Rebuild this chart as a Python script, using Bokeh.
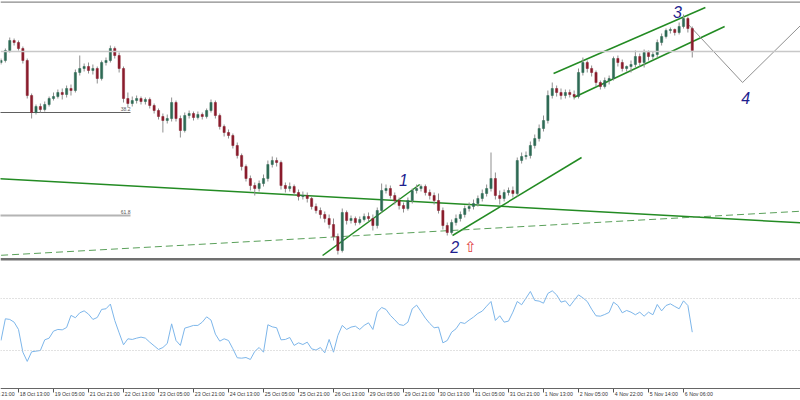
import numpy as np
from bokeh.plotting import figure
from bokeh.models import Range1d, Span, ColumnDataSource
from bokeh.core.properties import value
from bokeh.embed import file_html
from bokeh.resources import INLINE

# ---- H2 candles (EURUSD-like prices) ----
opens = [1.2938,1.2940,1.2950,1.2960,1.2958,1.2952,1.2940,1.2905,1.2888,1.2894,
         1.2891,1.2896,1.2902,1.2904,1.2908,1.2906,1.2912,1.2910,1.2928,1.2932,
         1.2934,1.2930,1.2932,1.2922,1.2938,1.2940,1.2952,1.2945,1.2932,1.2902,
         1.2897,1.2900,1.2902,1.2899,1.2901,1.2895,1.2890,1.2884,1.2880,1.2882,
         1.2898,1.2882,1.2870,1.2885,1.2887,1.2883,1.2886,1.2884,1.2890,1.2898,
         1.2885,1.2874,1.2868,1.2865,1.2855,1.2845,1.2834,1.2822,1.2815,1.2812,
         1.2817,1.2822,1.2836,1.2840,1.2838,1.2815,1.2812,1.2814,1.2808,1.2804,
         1.2805,1.2802,1.2794,1.2790,1.2786,1.2782,1.2776,1.2764,1.2750,1.2788,
         1.2780,1.2782,1.2778,1.2781,1.2784,1.2782,1.2775,1.2790,1.2810,1.2812,
         1.2805,1.2800,1.2795,1.2792,1.2800,1.2810,1.2812,1.2814,1.2808,1.2805,
         1.2800,1.2790,1.2775,1.2768,1.2778,1.2782,1.2786,1.2792,1.2794,1.2797,
         1.2802,1.2807,1.2812,1.2822,1.2805,1.2802,1.2808,1.2810,1.2807,1.2840,
         1.2844,1.2845,1.2855,1.2862,1.2872,1.2880,1.2905,1.2912,1.2908,1.2905,
         1.2908,1.2906,1.2904,1.2928,1.2938,1.2932,1.2928,1.2918,1.2914,1.2920,
         1.2922,1.2942,1.2938,1.2932,1.2934,1.2936,1.2944,1.2938,1.2948,1.2944,
         1.2946,1.2958,1.2964,1.2970,1.2971,1.2968,1.2974,1.2982,1.2972]
highs = [1.2942,1.2952,1.2963,1.2962,1.2960,1.2954,1.2942,1.2907,1.2896,1.2897,
         1.2899,1.2904,1.2908,1.2911,1.2912,1.2915,1.2916,1.2931,1.2945,1.2937,
         1.2938,1.2936,1.2934,1.2940,1.2943,1.2955,1.2954,1.2948,1.2934,1.2908,
         1.2904,1.2905,1.2904,1.2903,1.2903,1.2897,1.2892,1.2887,1.2886,1.2903,
         1.2900,1.2885,1.2888,1.2890,1.2889,1.2889,1.2888,1.2892,1.2901,1.2900,
         1.2887,1.2876,1.2871,1.2867,1.2858,1.2847,1.2836,1.2825,1.2818,1.2820,
         1.2826,1.2840,1.2844,1.2843,1.2840,1.2818,1.2818,1.2816,1.2811,1.2809,
         1.2808,1.2804,1.2797,1.2793,1.2789,1.2786,1.2782,1.2767,1.2792,1.2790,
         1.2785,1.2784,1.2784,1.2787,1.2788,1.2786,1.2793,1.2817,1.2816,1.2815,
         1.2808,1.2803,1.2798,1.2803,1.2812,1.2816,1.2816,1.2816,1.2811,1.2808,
         1.2807,1.2793,1.2778,1.2781,1.2786,1.2789,1.2795,1.2798,1.2801,1.2805,
         1.2811,1.2816,1.2848,1.2828,1.2810,1.2811,1.2813,1.2814,1.2843,1.2848,
         1.2849,1.2859,1.2866,1.2876,1.2885,1.2910,1.2918,1.2915,1.2912,1.2911,
         1.2911,1.2910,1.2932,1.2943,1.2940,1.2935,1.2930,1.2920,1.2923,1.2925,
         1.2944,1.2945,1.2941,1.2935,1.2940,1.2950,1.2947,1.2951,1.2950,1.2949,
         1.2961,1.2967,1.2972,1.2973,1.2972,1.2978,1.2986,1.2984,1.2974]
lows = [1.2936,1.2938,1.2948,1.2955,1.2950,1.2937,1.2902,1.2882,1.2886,1.2888,
        1.2889,1.2894,1.2900,1.2902,1.2901,1.2903,1.2905,1.2908,1.2925,1.2929,
        1.2927,1.2926,1.2917,1.2920,1.2935,1.2938,1.2942,1.2928,1.2898,1.2893,
        1.2894,1.2897,1.2896,1.2896,1.2892,1.2887,1.2881,1.2868,1.2877,1.2879,
        1.2879,1.2863,1.2868,1.2882,1.2880,1.2881,1.2881,1.2882,1.2888,1.2882,
        1.2871,1.2864,1.2862,1.2852,1.2842,1.2830,1.2819,1.2810,1.2805,1.2809,
        1.2814,1.2819,1.2833,1.2834,1.2811,1.2808,1.2809,1.2805,1.2800,1.2801,
        1.2798,1.2791,1.2787,1.2782,1.2778,1.2772,1.2760,1.2746,1.2748,1.2776,
        1.2777,1.2775,1.2776,1.2779,1.2779,1.2770,1.2772,1.2788,1.2807,1.2802,
        1.2796,1.2791,1.2788,1.2790,1.2797,1.2807,1.2809,1.2805,1.2801,1.2796,
        1.2787,1.2771,1.2765,1.2766,1.2775,1.2779,1.2783,1.2789,1.2791,1.2794,
        1.2799,1.2804,1.2809,1.2801,1.2796,1.2799,1.2805,1.2803,1.2804,1.2837,
        1.2841,1.2842,1.2852,1.2859,1.2869,1.2877,1.2902,1.2904,1.2901,1.2902,
        1.2903,1.2901,1.2902,1.2925,1.2928,1.2924,1.2914,1.2911,1.2912,1.2916,
        1.2920,1.2934,1.2929,1.2929,1.2928,1.2933,1.2934,1.2933,1.2940,1.2941,
        1.2943,1.2955,1.2962,1.2967,1.2965,1.2966,1.2972,1.2968,1.2943]
closes = [1.2940,1.2950,1.2960,1.2958,1.2952,1.2940,1.2905,1.2888,1.2894,1.2891,
          1.2896,1.2902,1.2904,1.2908,1.2906,1.2912,1.2910,1.2928,1.2932,1.2934,
          1.2930,1.2932,1.2922,1.2938,1.2940,1.2952,1.2945,1.2932,1.2902,1.2897,
          1.2900,1.2902,1.2899,1.2901,1.2895,1.2890,1.2884,1.2880,1.2882,1.2898,
          1.2882,1.2870,1.2885,1.2887,1.2883,1.2886,1.2884,1.2890,1.2898,1.2885,
          1.2874,1.2868,1.2865,1.2855,1.2845,1.2834,1.2822,1.2815,1.2812,1.2817,
          1.2822,1.2836,1.2840,1.2838,1.2815,1.2812,1.2814,1.2808,1.2804,1.2805,
          1.2802,1.2794,1.2790,1.2786,1.2782,1.2776,1.2764,1.2750,1.2788,1.2780,
          1.2782,1.2778,1.2781,1.2784,1.2782,1.2775,1.2790,1.2810,1.2812,1.2805,
          1.2800,1.2795,1.2792,1.2800,1.2810,1.2812,1.2814,1.2808,1.2805,1.2800,
          1.2790,1.2775,1.2768,1.2778,1.2782,1.2786,1.2792,1.2794,1.2797,1.2802,
          1.2807,1.2812,1.2822,1.2805,1.2802,1.2808,1.2810,1.2807,1.2840,1.2844,
          1.2845,1.2855,1.2862,1.2872,1.2880,1.2905,1.2912,1.2908,1.2905,1.2908,
          1.2906,1.2904,1.2928,1.2938,1.2932,1.2928,1.2918,1.2914,1.2920,1.2922,
          1.2942,1.2938,1.2932,1.2934,1.2936,1.2944,1.2938,1.2948,1.2944,1.2946,
          1.2958,1.2964,1.2970,1.2971,1.2968,1.2974,1.2982,1.2972,1.2950]

# ---- oscillator (0-100) ----
osc = [37.7,54.4,53.9,51.8,46.2,28.7,21.6,29.0,29.5,30.0,
       38.2,39.5,44.9,46.2,45.9,47.7,57.0,55.2,59.0,60.5,
       58.0,53.9,55.4,61.6,62.1,65.7,53.1,43.6,34.4,39.0,
       38.5,39.5,40.3,39.5,36.4,33.6,30.8,32.3,35.4,50.5,
       37.7,33.9,47.2,48.2,49.3,49.3,51.8,55.9,53.4,42.6,
       37.2,39.0,37.7,31.3,24.4,24.1,24.6,23.1,29.3,32.3,
       28.7,49.8,48.2,47.5,38.2,38.5,40.0,33.9,35.9,34.6,
       36.4,31.3,30.3,32.3,28.2,38.5,28.7,41.6,49.3,46.2,
       48.0,48.7,46.2,49.3,51.3,46.2,59.5,63.1,61.6,57.0,
       53.6,50.0,49.3,51.8,62.1,64.9,60.0,54.9,50.8,47.5,
       48.0,35.9,37.7,44.1,46.7,51.6,50.8,53.4,55.7,58.5,
       60.3,64.1,67.7,53.1,56.7,51.8,52.6,59.5,67.7,65.2,
       70.3,75.4,68.5,68.0,66.4,73.9,75.9,72.8,67.2,68.2,
       64.1,68.5,72.8,70.5,67.7,61.8,56.7,56.4,57.7,59.3,
       67.2,64.6,59.0,60.8,59.5,57.5,59.5,56.4,59.5,57.5,
       65.4,60.5,64.6,65.9,63.9,62.1,68.2,64.6,44.1]
osc_levels = [70, 30]

tick_idx = [-4, 4, 12, 20, 28, 36, 44, 52, 60, 68, 76, 84, 92, 100, 108, 116, 124, 132, 140, 148, 156]
tick_labels = ["17 Oct 21:00", "18 Oct 13:00", "19 Oct 05:00", "21 Oct 21:00", "22 Oct 13:00", "23 Oct 05:00",
               "23 Oct 21:00", "24 Oct 13:00", "25 Oct 05:00", "25 Oct 21:00", "26 Oct 13:00",
               "29 Oct 05:00", "29 Oct 21:00", "30 Oct 13:00", "31 Oct 05:00", "31 Oct 21:00",
               "1 Nov 13:00", "2 Nov 05:00", "4 Nov 22:00", "5 Nov 14:00", "6 Nov 06:00"]

# ---- analysis objects (bar index, price) ----
trend_x0 = [-5, 73.5, 103.2, 126.3, 130.9]
trend_y0 = [1.2823, 1.2745, 1.2765, 1.2927, 1.2903]
trend_x1 = [190, 95.7, 132.7, 161.0, 165.4]
trend_y1 = [1.2776, 1.2816, 1.2843, 1.2993, 1.2974]
dash_x = [-5, 190]
dash_y = [1.2744, 1.2791]
proj_x = [156.9, 169.5, 186]
proj_y = [1.2977, 1.2918, 1.2989]
hline_level = 1.2949
fib_levels = [1.2888, 1.2785]
fib_names = ["38.2", "61.8"]
fib_from, fib_to = -5, 29.6
wave_names = ["1", "2", "3", "4"]
wave_x = [92.0, 103.7, 154.6, 170.2]
wave_y = [1.2821, 1.2754, 1.2989, 1.2903]
arrow_x, arrow_y = [107.3], [1.2754]

idx = np.arange(len(closes))
o = np.array(opens); c = np.array(closes)
up = c >= o
src = ColumnDataSource(dict(x=idx, o=o, c=c, h=np.array(highs), l=np.array(lows),
                            top=np.maximum(o, c), bot=np.minimum(o, c),
                            col=np.where(up, "#2e6a55", "#8a1c2c")))

# one frame covering the whole canvas: price pane on the default range,
# oscillator pane and time scale on the "ind" range below it
p = figure(width=800, height=400, output_backend="svg", toolbar_location=None,
           x_range=Range1d(-0.114, 182.74), y_range=Range1d(1.2600, 1.3000),
           x_axis_location=None, y_axis_location=None, min_border=0)
p.extra_y_ranges = {"ind": Range1d(-8.46, 299.23)}
p.grid.visible = False
p.outline_line_color = None

# chart borders and horizontal level lines
p.add_layout(Span(location=1.29983, dimension="width", line_color="#8a8a8a", line_width=1.2))
p.add_layout(Span(location=hline_level, dimension="width", line_color="#c8c8c8", line_width=1.5))
p.segment(x0=[fib_from]*2, y0=fib_levels, x1=[fib_to]*2, y1=fib_levels,
          line_color=["#606060", "#b4b4b4"], line_width=[1, 2])
p.text(x=[fib_to]*2, y=[v + 0.0002 for v in fib_levels], text=fib_names, text_align="right",
       text_baseline="bottom", text_font=value("Liberation Sans"), text_font_size="5px",
       text_color="#555555")

# trend lines
p.segment(x0=trend_x0, y0=trend_y0, x1=trend_x1, y1=trend_y1, line_color="#238b23", line_width=1.5)
p.line(dash_x, dash_y, line_color="#5aa05a", line_width=1, line_dash="7 4")
p.line(proj_x, proj_y, line_color="#909090", line_width=1)

# candles
p.segment(x0="x", y0="h", x1="x", y1="l", source=src, line_color="#8f8f8f", line_width=1)
p.vbar(x="x", top="top", bottom="bot", width=0.5, source=src, fill_color="col", line_color="col", line_width=0.5)

# wave labels
p.text(x=wave_x, y=wave_y, text=wave_names, text_align="center", text_baseline="middle",
       text_font=value("Liberation Sans"), text_font_style="italic", text_font_size="16px",
       text_color="#1f1f8f")
p.text(x=arrow_x, y=arrow_y, text=["\u21e7"], text_align="center", text_baseline="middle",
       text_font=value("DejaVu Sans"), text_font_size="15px", text_color="#e03c3c")

# separator between panes
p.add_layout(Span(location=1.27412, dimension="width", line_color="#707070", line_width=2.5))

# oscillator pane
for lv in osc_levels:
    p.add_layout(Span(location=lv, dimension="width", y_range_name="ind",
                      line_color="#c4c4c4", line_width=1, line_dash="1 2"))
p.line(idx, osc, y_range_name="ind", line_color="#7db6ea", line_width=1)

# time scale: axis line, ticks pointing down, left-aligned labels
p.add_layout(Span(location=0.77, dimension="width", y_range_name="ind",
                  line_color="#666666", line_width=1))
p.segment(x0=tick_idx, y0=[0.77]*len(tick_idx), x1=tick_idx, y1=[-2.3]*len(tick_idx),
          y_range_name="ind", line_color="#555555", line_width=1)
p.text(x=[t + 0.3 for t in tick_idx], y=[-5.6]*len(tick_idx), text=tick_labels,
       y_range_name="ind", text_align="left", text_baseline="bottom",
       text_font=value("Liberation Sans"), text_font_size="5.2px", text_color="#333333")

open("out.html", "w").write(file_html(p, INLINE))
